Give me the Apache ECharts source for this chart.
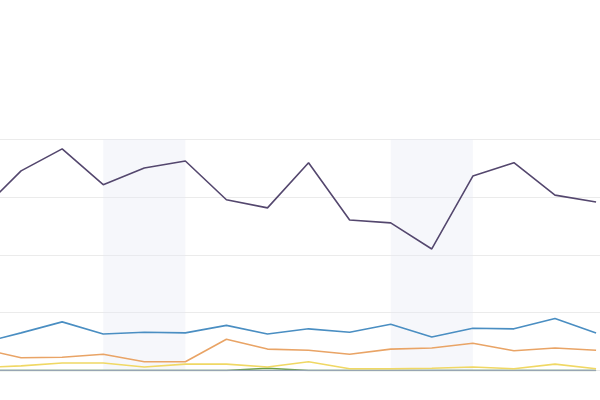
<!DOCTYPE html>
<html>
<head>
    <meta charset="utf-8">
    <script src="https://cdn.jsdelivr.net/npm/echarts@6/dist/echarts.min.js"></script>
</head>
<body style="margin:0">
    <div id="main" style="width: 600px;height:400px;"></div>
	<script type="text/javascript">
	// day index 0 sits just off the left edge of the picture
	var days = [0, 1, 2, 3, 4, 5, 6, 7, 8, 9, 10, 11, 12, 13, 14, 15];
	var purple = [274, 345, 383, 321, 350, 362, 295, 281, 359, 260, 255, 210, 336, 359, 303, 291];
	var blue = [47, 65, 84, 63, 66, 65, 78, 63, 72, 66, 80, 58, 73, 72, 90, 65];
	var orange = [38, 22, 23, 28, 15, 15, 54, 37, 35, 28, 37, 39, 47, 34, 39, 35];
	var yellow = [5, 8, 13, 13, 6, 11, 11, 6, 15, 3, 3, 4, 6, 3, 11, 3];
	var green = [0, 0, 0, 0, 0, 0, 0, 4, 0, 0, 0, 0, 0, 0, 0, 0];
	var grey = [0, 0, 0, 0, 0, 0, 0, 0, 0, 0, 0, 0, 0, 0, 0, 0];
	var shaded = [[3, 5], [10, 12]];

	myChart = echarts.init(document.getElementById('main'));

	function line(name, vals, color) {
		return {
			name: name,
			type: 'line',
			data: days.map(function (d, i) { return [d, vals[i]]; }),
			symbol: 'none',
			lineStyle: {width: 1.6, color: color},
			itemStyle: {color: color}
		};
	}

	var series = [
		line('green', green, '#6a9e46'),
		line('grey', grey, '#98a6b4'),
		line('yellow', yellow, '#f0d864'),
		line('orange', orange, '#e9a466'),
		line('blue', blue, '#4a8ec2'),
		line('purple', purple, '#54476e')
	];
	series[0].markArea = {
		silent: true,
		itemStyle: {color: 'rgba(228,232,244,0.35)'},
		data: shaded.map(function (s) { return [{xAxis: s[0]}, {xAxis: s[1]}]; })
	};

	myChart.setOption(option = {
		animation: false,
		grid: {left: 0, right: 0, top: 139, bottom: 29.5},
		xAxis: {
			type: 'value',
			min: 0.487,
			max: 15.096,
			splitLine: {show: false},
			axisLine: {show: false},
			axisTick: {show: false},
			axisLabel: {show: false}
		},
		yAxis: {
			type: 'value',
			min: 0,
			max: 400,
			interval: 100,
			axisLabel: {show: false},
			axisLine: {show: false},
			axisTick: {show: false},
			splitLine: {lineStyle: {color: '#ebebeb'}}
		},
		series: series
	});
	</script>
</body>
</html>
